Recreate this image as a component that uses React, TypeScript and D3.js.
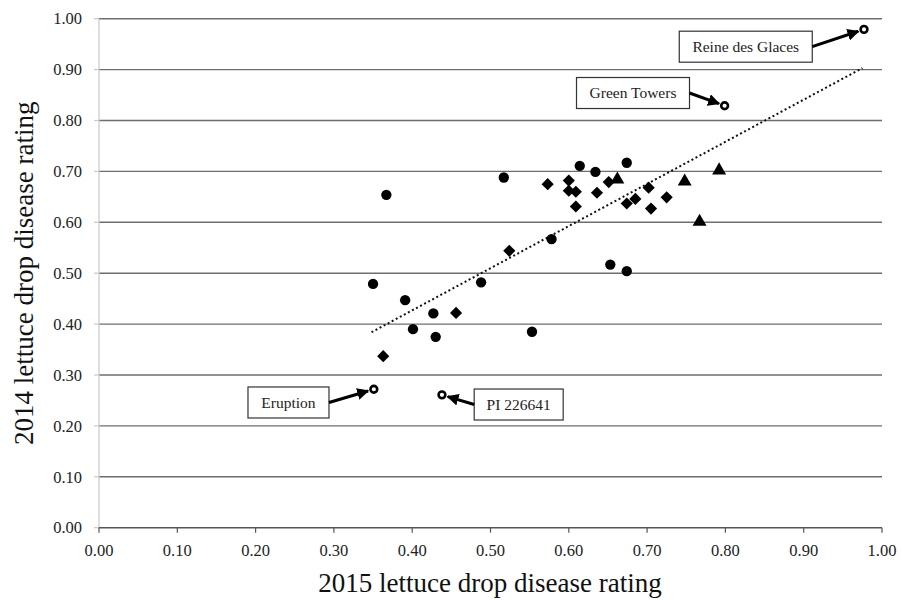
import React from "react";
import * as d3 from "d3";

const circlePts: [number, number][] = [
  [0.367, 0.654], [0.517, 0.688], [0.614, 0.711], [0.634, 0.699], [0.674, 0.717],
  [0.578, 0.567], [0.350, 0.479], [0.488, 0.482], [0.391, 0.447], [0.427, 0.421],
  [0.401, 0.390], [0.430, 0.375], [0.553, 0.385], [0.653, 0.517], [0.674, 0.504],
];
const diamondPts: [number, number][] = [
  [0.573, 0.675], [0.600, 0.682], [0.600, 0.662], [0.609, 0.660], [0.609, 0.631],
  [0.524, 0.544], [0.456, 0.422], [0.363, 0.337], [0.636, 0.658], [0.651, 0.679],
  [0.702, 0.668], [0.674, 0.637], [0.685, 0.646], [0.705, 0.627], [0.725, 0.649],
];
const trianglePts: [number, number][] = [
  [0.662, 0.686], [0.748, 0.682], [0.792, 0.704], [0.767, 0.603],
];
const namedNames = ["Reine des Glaces", "Green Towers", "Eruption", "PI 226641"];
const namedX = [0.977, 0.799, 0.351, 0.438];
const namedY = [0.979, 0.829, 0.272, 0.261];
// label box centers in data units
const labelX = [0.826, 0.682, 0.242, 0.536];
const labelY = [0.945, 0.854, 0.246, 0.242];
const trendX = [0.348, 0.975];
const trendY = [0.384, 0.903];
const ticks = [0, 0.1, 0.2, 0.3, 0.4, 0.5, 0.6, 0.7, 0.8, 0.9, 1.0];

export default function App() {
  const W = 902, H = 600;
  const x = d3.scaleLinear().domain([0, 1]).range([99, 882]);
  const y = d3.scaleLinear().domain([0, 1]).range([527.7, 18.7]);
  const font = "Liberation Serif";
  const ts = { fontFamily: font };
  const fmt = d3.format(".2f");
  const sym = (t: d3.SymbolType, size: number) => d3.symbol().type(t).size(size)()!;
  const circlePath = sym(d3.symbolCircle, 84);
  const diamondPath = sym(d3.symbolSquare, 74);
  const trianglePath = sym(d3.symbolTriangle, 84);
  const line = d3.line<number>().x((_, i) => x(trendX[i])).y((_, i) => y(trendY[i]));

  const boxW = [133, 113, 81, 89];
  const boxH = 31;

  return (
    <svg width={W} height={H} style={{ position: "absolute", left: 0, top: 0, background: "#fff" }}>
      <defs>
        <marker id="ah" viewBox="0 0 10 10" refX="9" refY="5" markerWidth="4" markerHeight="4" orient="auto">
          <path d="M0,0 L10,5 L0,10 z" fill="#000" />
        </marker>
      </defs>
      {/* gridlines */}
      {ticks.slice(1).map((t) => (
        <line key={"g" + t} x1={x(0)} x2={x(1)} y1={y(t)} y2={y(t)} stroke="#6e6e6e" strokeWidth={1.4} />
      ))}
      {/* y axis */}
      <line x1={x(0)} x2={x(0)} y1={y(1)} y2={y(0)} stroke="#c8c8c8" strokeWidth={1.2} />
      {ticks.map((t) => (
        <g key={"yt" + t}>
          <line x1={x(0) - 5} x2={x(0)} y1={y(t)} y2={y(t)} stroke="#c8c8c8" strokeWidth={1.2} />
          <text x={82} y={y(t)} dy="0.35em" textAnchor="end" fontSize={16.5} fill="#222" style={ts}>{fmt(t)}</text>
        </g>
      ))}
      {/* x axis */}
      <line x1={x(0)} x2={x(1)} y1={y(0)} y2={y(0)} stroke="#555" strokeWidth={1.4} />
      {ticks.map((t) => (
        <g key={"xt" + t}>
          <line x1={x(t)} x2={x(t)} y1={y(0)} y2={y(0) + 5} stroke="#555" strokeWidth={1.2} />
          <text x={x(t)} y={556} textAnchor="middle" fontSize={16.5} fill="#222" style={ts}>{fmt(t)}</text>
        </g>
      ))}
      <text x={490} y={592} textAnchor="middle" fontSize={27} fill="#111" style={ts}>2015 lettuce drop disease rating</text>
      <text transform={`translate(33,${y(0.5)}) rotate(-90)`} textAnchor="middle" fontSize={27} fill="#111" style={ts}>2014 lettuce drop disease rating</text>

      {/* trendline */}
      <path d={line([0, 1]) || ""} fill="none" stroke="#111" strokeWidth={2} strokeDasharray="2,2.6" />

      {circlePts.map((p, i) => (
        <path key={"c" + i} d={circlePath} transform={`translate(${x(p[0])},${y(p[1])})`} fill="#000" />
      ))}
      {diamondPts.map((p, i) => (
        <path key={"d" + i} d={diamondPath} transform={`translate(${x(p[0])},${y(p[1])}) rotate(45)`} fill="#000" />
      ))}
      {trianglePts.map((p, i) => (
        <path key={"t" + i} d={trianglePath} transform={`translate(${x(p[0])},${y(p[1]) + 1})`} fill="#000" />
      ))}

      {namedNames.map((n, i) => {
        const cx = x(labelX[i]);
        const cy = y(labelY[i]);
        const px = x(namedX[i]);
        const py = y(namedY[i]);
        const left = px > cx;
        const sx = left ? cx + boxW[i] / 2 : cx - boxW[i] / 2;
        const sy = cy;
        const dx = px - sx, dy = py - sy;
        const len = Math.hypot(dx, dy);
        const ex = px - (dx / len) * 6;
        const ey = py - (dy / len) * 6;
        return (
          <g key={"n" + i}>
            <circle cx={px} cy={py} r={3.4} fill="#fff" stroke="#000" strokeWidth={2.6} />
            <rect x={cx - boxW[i] / 2} y={cy - boxH / 2} width={boxW[i]} height={boxH} fill="#fff" stroke="#333" strokeWidth={1.2} />
            <text x={cx} y={cy} dy="0.35em" textAnchor="middle" fontSize={15.5} fill="#222" style={ts}>{n}</text>
            <line x1={sx} y1={sy} x2={ex} y2={ey} stroke="#000" strokeWidth={3} markerEnd="url(#ah)" />
          </g>
        );
      })}
    </svg>
  );
}
